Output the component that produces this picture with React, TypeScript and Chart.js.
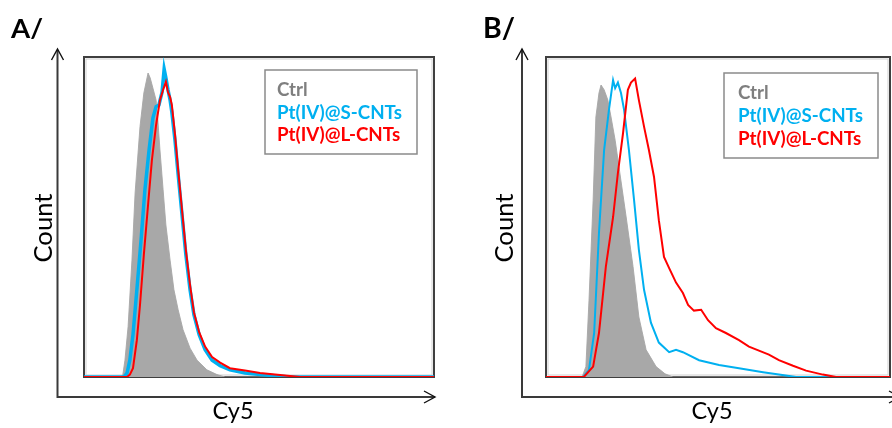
import React, { useEffect, useRef } from "react";
import { Chart, registerables } from "chart.js";

Chart.register(...registerables);

// ---------- Data (x: Cy5 channel 0..1000, y: cell count) ----------
// Panel A
const ctrlA_x = [0, 106, 111, 117, 126, 137, 146, 160, 171, 183, 189, 197, 206, 211, 217, 226, 234, 246, 257, 269, 283, 303, 323, 351, 380, 403, 1000];
const ctrlA_y = [0, 0, 3, 21, 63, 146, 230, 313, 355, 380, 374, 361, 346, 321, 284, 234, 190, 146, 109, 84, 59, 36, 21, 9, 3, 0, 0];

const sA_x = [0, 114, 123, 131, 140, 151, 163, 174, 186, 197, 206, 214, 223, 229, 234, 240, 246, 251, 260, 269, 280, 291, 303, 314, 329, 346, 366, 389, 417, 460, 503, 560, 589, 1000];
const sA_y = [0, 0, 5, 21, 53, 109, 171, 234, 284, 324, 338, 340, 356, 385, 374, 359, 346, 331, 296, 253, 203, 153, 109, 78, 53, 34, 21, 14, 9, 5, 3, 1, 0, 0];

const lA_x = [0, 123, 131, 140, 151, 160, 171, 183, 194, 206, 217, 226, 234, 240, 246, 251, 260, 269, 280, 291, 303, 314, 329, 346, 366, 389, 417, 460, 503, 546, 617, 1000];
const lA_y = [0, 0, 3, 11, 46, 90, 153, 215, 271, 315, 346, 359, 369, 356, 350, 340, 303, 259, 209, 159, 115, 81, 56, 38, 25, 18, 11, 8, 5, 3, 0, 0];

// Panel B
const ctrlB_x = [0, 105, 110, 116, 125, 131, 137, 145, 154, 160, 169, 180, 189, 201, 212, 233, 253, 270, 291, 320, 346, 369, 1000];
const ctrlB_y = [0, 0, 6, 13, 96, 159, 221, 325, 355, 365, 359, 346, 325, 296, 263, 200, 138, 75, 34, 13, 4, 0, 0];

const sB_x = [0, 108, 125, 140, 154, 169, 183, 195, 201, 209, 218, 227, 241, 256, 270, 285, 305, 328, 358, 378, 398, 445, 503, 561, 631, 677, 727, 1000];
const sB_y = [0, 0, 9, 55, 180, 284, 334, 371, 361, 368, 355, 334, 284, 221, 159, 109, 68, 43, 31, 34, 31, 21, 15, 11, 6, 3, 0, 0];

const lB_x = [0, 110, 137, 154, 174, 195, 209, 224, 238, 247, 259, 270, 285, 299, 314, 328, 343, 358, 378, 398, 413, 430, 451, 471, 494, 523, 561, 590, 619, 648, 677, 718, 756, 805, 843, 1000];
const lB_y = [0, 0, 13, 55, 138, 200, 255, 305, 359, 368, 373, 346, 313, 284, 250, 196, 150, 136, 118, 105, 90, 83, 84, 71, 61, 55, 46, 38, 33, 28, 21, 14, 8, 3, 0, 0];

const SERIES_LABELS = ["Ctrl", "Pt(IV)@S-CNTs", "Pt(IV)@L-CNTs"];
const SERIES_COLORS = ["#7f7f7f", "#00b0f0", "#ff0000"];
const X_TITLE = "Cy5";
const Y_TITLE = "Count";
const PANEL_TITLES = ["A/", "B/"];
const X_MAX = 1000;
const Y_MAX = 400;

const FONT = "Lato, 'Open Sans', sans-serif";

function pts(xs: number[], ys: number[]) {
  return xs.map((x, i) => ({ x, y: ys[i] }));
}

function fitSize(ctx: CanvasRenderingContext2D, text: string, weight: string, target: number) {
  ctx.font = `${weight} 100px ${FONT}`;
  const w = ctx.measureText(text).width;
  return (100 * target) / w;
}

type Panel = {
  title: string;
  canvasW: number;
  canvasLeft: number;
  padding: { left: number; right: number; top: number; bottom: number };
  axisX: number;
  arrowTip: number;
  legend: { x: number; y: number; w: number; h: number; tx: number; baselines: number[] };
  countX: number;
  cy5X: number;
  titleX: number;
  cyanWidth: number;
  ctrl: { x: number; y: number }[];
  s: { x: number; y: number }[];
  l: { x: number; y: number }[];
};

const panels: Panel[] = [
  {
    title: PANEL_TITLES[0],
    canvasW: 446,
    canvasLeft: 0,
    padding: { left: 84, right: 12, top: 57, bottom: 51 },
    axisX: 57.5,
    arrowTip: 435,
    legend: { x: 265, y: 70, w: 152, h: 84, tx: 277, baselines: [96, 118.5, 141] },
    countX: 44,
    cy5X: 233,
    titleX: 11,
    cyanWidth: 3.5,
    ctrl: pts(ctrlA_x, ctrlA_y),
    s: pts(sA_x, sA_y),
    l: pts(lA_x, lA_y),
  },
  {
    title: PANEL_TITLES[1],
    canvasW: 460,
    canvasLeft: 446,
    padding: { left: 100, right: 16, top: 57, bottom: 51 },
    axisX: 76,
    arrowTip: 454,
    legend: { x: 278, y: 73, w: 154, h: 85, tx: 292, baselines: [99, 122, 145] },
    countX: 59,
    cy5X: 266,
    titleX: 37,
    cyanWidth: 2,
    ctrl: pts(ctrlB_x, ctrlB_y),
    s: pts(sB_x, sB_y),
    l: pts(lB_x, lB_y),
  },
];

function makeDecor(p: Panel) {
  return {
    id: "decor",
    beforeDatasetsDraw(chart: any) {
      const { ctx, chartArea: ca } = chart;
      ctx.save();
      ctx.strokeStyle = "#d0d0d0";
      ctx.lineWidth = 1;
      ctx.strokeRect(ca.left + 2, ca.top + 2, ca.right - ca.left - 4, ca.bottom - ca.top - 4);
      ctx.strokeStyle = "#3f3f3f";
      ctx.lineWidth = 2;
      ctx.strokeRect(ca.left, ca.top, ca.right - ca.left, ca.bottom - ca.top);
      ctx.restore();
    },
    afterDatasetsDraw(chart: any) {
      const { ctx, chartArea: ca } = chart;
      ctx.save();
      // axes with arrows
      const yBase = ca.bottom + 20;
      ctx.strokeStyle = "#3a3a3a";
      ctx.lineWidth = 2;
      ctx.beginPath();
      ctx.moveTo(p.axisX, 50);
      ctx.lineTo(p.axisX, yBase);
      ctx.lineTo(p.arrowTip, yBase);
      ctx.stroke();
      ctx.strokeStyle = "#111";
      ctx.lineWidth = 1.4;
      ctx.beginPath();
      ctx.moveTo(p.axisX - 6, 60);
      ctx.lineTo(p.axisX, 49);
      ctx.lineTo(p.axisX + 6, 60);
      ctx.moveTo(p.arrowTip - 11, yBase - 6);
      ctx.lineTo(p.arrowTip, yBase);
      ctx.lineTo(p.arrowTip - 11, yBase + 6);
      ctx.stroke();

      // legend
      const lg = p.legend;
      ctx.fillStyle = "#ffffff";
      ctx.fillRect(lg.x, lg.y, lg.w, lg.h);
      ctx.strokeStyle = "#8a8a8a";
      ctx.lineWidth = 1.5;
      ctx.strokeRect(lg.x, lg.y, lg.w, lg.h);
      const lsize = fitSize(ctx, SERIES_LABELS[1], "bold", 125);
      ctx.font = `bold ${lsize}px ${FONT}`;
      ctx.textAlign = "left";
      ctx.textBaseline = "alphabetic";
      SERIES_LABELS.forEach((t, i) => {
        ctx.fillStyle = SERIES_COLORS[i];
        ctx.fillText(t, lg.tx, lg.baselines[i]);
      });

      // panel title
      const tsize = fitSize(ctx, p.title, "bold", 32);
      ctx.font = `bold ${tsize}px ${FONT}`;
      ctx.fillStyle = "#000";
      ctx.fillText(p.title, p.titleX, 38);

      // x title
      const xs = fitSize(ctx, X_TITLE, "normal", 41);
      ctx.font = `normal ${xs}px ${FONT}`;
      ctx.textAlign = "center";
      ctx.fillText(X_TITLE, p.cy5X, 419);

      // y title
      const ys = fitSize(ctx, Y_TITLE, "normal", 69);
      ctx.font = `normal ${ys}px ${FONT}`;
      ctx.translate(p.countX, 228);
      ctx.rotate(-Math.PI / 2);
      ctx.textAlign = "center";
      ctx.textBaseline = "middle";
      ctx.fillText(Y_TITLE, 0, 0);
      ctx.restore();
    },
  };
}

function PanelChart({ p }: { p: Panel }) {
  const ref = useRef<HTMLCanvasElement | null>(null);
  useEffect(() => {
    if (!ref.current) return;
    const chart = new Chart(ref.current, {
      type: "line",
      data: {
        datasets: [
          {
            label: SERIES_LABELS[2],
            data: p.l,
            borderColor: SERIES_COLORS[2],
            borderWidth: 2,
            fill: false,
            pointRadius: 0,
            tension: 0,
          },
          {
            label: SERIES_LABELS[1],
            data: p.s,
            borderColor: SERIES_COLORS[1],
            borderWidth: p.cyanWidth,
            fill: false,
            pointRadius: 0,
            tension: 0,
          },
          {
            label: SERIES_LABELS[0],
            data: p.ctrl,
            borderColor: "rgba(166,166,166,0.9)",
            backgroundColor: "#a8a8a8",
            borderWidth: 1,
            fill: "origin",
            pointRadius: 0,
            tension: 0,
          },
        ],
      },
      options: {
        animation: false,
        responsive: false,
        maintainAspectRatio: false,
        parsing: true,
        layout: { padding: p.padding },
        scales: {
          x: { type: "linear", min: 0, max: X_MAX, display: false },
          y: { type: "linear", min: 0, max: Y_MAX, display: false },
        },
        plugins: {
          legend: { display: false },
          tooltip: { enabled: false },
        },
      },
      plugins: [makeDecor(p)],
    } as any);
    return () => chart.destroy();
  }, [p]);
  return (
    <canvas
      ref={ref}
      width={p.canvasW}
      height={428}
      style={{ position: "absolute", left: p.canvasLeft, top: 0, width: p.canvasW, height: 428 }}
    />
  );
}

export default function App() {
  useEffect(() => {
    document.body.style.margin = "0";
    document.body.style.overflow = "hidden";
  }, []);
  return (
    <div style={{ position: "relative", width: 892, height: 428, overflow: "hidden", background: "#fff" }}>
      {panels.map((p) => (
        <PanelChart key={p.title} p={p} />
      ))}
    </div>
  );
}
